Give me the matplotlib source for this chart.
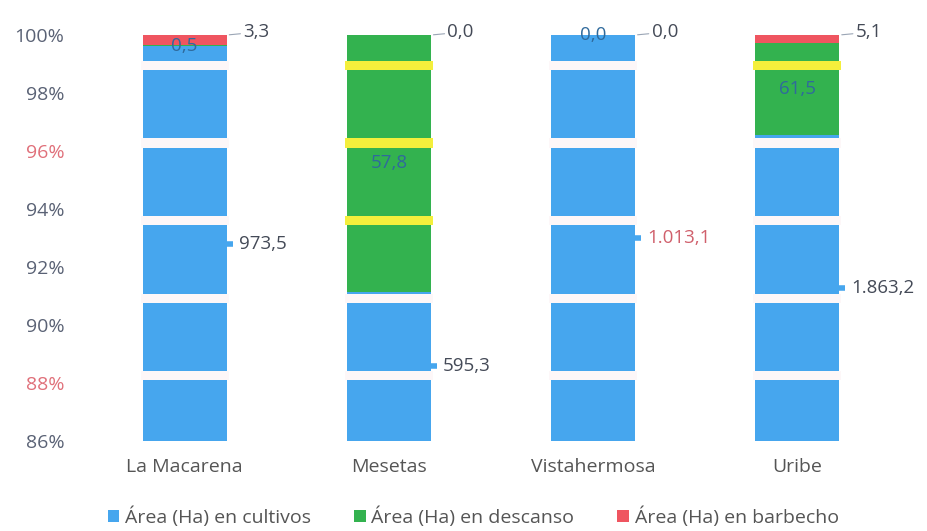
import numpy as np
import matplotlib
matplotlib.use('Agg')
import matplotlib.pyplot as plt

# datos (Ha) por municipio
municipios = ['La Macarena', 'Mesetas', 'Vistahermosa', 'Uribe']
cultivos = [973.5, 595.3, 1013.1, 1863.2]
descanso = [0.5, 57.8, 0.0, 61.5]
barbecho = [3.3, 0.0, 0.0, 5.1]
etiq_cultivos = ['973,5', '595,3', '1.013,1', '1.863,2']
etiq_descanso = ['0,5', '57,8', '0,0', '61,5']
etiq_barbecho = ['3,3', '0,0', '0,0', '5,1']
yticks = [86, 88, 90, 92, 94, 96, 98, 100]

# franjas horizontales que deja el escaneo del original
franjas = [98.95, 96.28, 93.6, 90.92, 88.25]

azul = '#46a6ee'
verde = '#33b24f'
rojo = '#ef5560'
amarillo = '#f4ef3c'
gris = '#5a6275'

plt.rcParams['font.family'] = ['Open Sans', 'DejaVu Sans']

c = np.array(cultivos)
d = np.array(descanso)
b = np.array(barbecho)
tot = c + d + b
pc = c / tot * 100
pd_ = d / tot * 100
pb = b / tot * 100
x = np.arange(len(municipios))
w = 0.41

fig = plt.figure(figsize=(9.28, 5.31), dpi=100)
ax = fig.add_axes([0.089, 0.1695, 0.88, 0.7645])

ax.bar(x, pc, width=w, color=azul, zorder=2, label='Área (Ha) en cultivos')
ax.bar(x, pd_, bottom=pc, width=w, color=verde, zorder=2, label='Área (Ha) en descanso')
ax.bar(x, pb, bottom=pc + pd_, width=w, color=rojo, zorder=2, label='Área (Ha) en barbecho')

for i in range(len(x)):
    for f in franjas:
        col = amarillo if pc[i] < f < pc[i] + pd_[i] else '#fdf7f8'
        ax.bar(x[i], 0.32, bottom=f - 0.16, width=w + 0.02, color=col, zorder=3)

ax.set_ylim(86, 100)
ax.set_xlim(-0.5, 3.5)
ax.set_yticks(yticks)
ax.set_yticklabels(['%d%%' % t for t in yticks])
ax.set_xticks(x)
ax.set_xticklabels(municipios)
for s in ax.spines.values():
    s.set_visible(False)
ax.tick_params(axis='y', length=0, pad=13, labelsize=14, labelcolor=gris)
ax.tick_params(axis='x', length=0, pad=12, labelsize=14, labelcolor='#555555')
for lab in ax.get_yticklabels():
    if lab.get_text() in ('96%', '88%'):
        lab.set_color('#e0707a')

# etiquetas de cultivos con pestaña a la derecha
for i in range(len(x)):
    ym = (86 + pc[i]) / 2
    ax.plot([x[i] + w / 2, x[i] + w / 2 + 0.03], [ym, ym], color=azul, lw=4,
            solid_capstyle='butt', zorder=2)
    col = '#d0606c' if i == 2 else '#444a57'
    ax.text(x[i] + w / 2 + 0.06, ym, etiq_cultivos[i], ha='left', va='center',
            fontsize=13.5, color=col, zorder=5)

# etiquetas de descanso dentro de la barra
for i in range(len(x)):
    ym = pc[i] + pd_[i] / 2
    ax.text(x[i], ym, etiq_descanso[i], ha='center', va='center', fontsize=13.5,
            color='#2f6a9c', zorder=5, clip_on=False)

# etiquetas de barbecho con línea guía
for i in range(len(x)):
    ax.annotate(etiq_barbecho[i], xy=(x[i] + w / 2, 100), xytext=(12, 2),
                textcoords='offset points', ha='left', va='center', fontsize=13.5,
                color='#444a57', annotation_clip=False,
                arrowprops=dict(arrowstyle='-', color='#9aa5b5', lw=0.8,
                                shrinkA=0, shrinkB=2))

fig.legend(loc='lower center', bbox_to_anchor=(0.51, -0.025), ncol=3, frameon=False,
           fontsize=14, handlelength=0.6, handleheight=0.6, handletextpad=0.3,
           columnspacing=2.2, labelcolor='#555555')

fig.savefig('out.png', dpi=100)
